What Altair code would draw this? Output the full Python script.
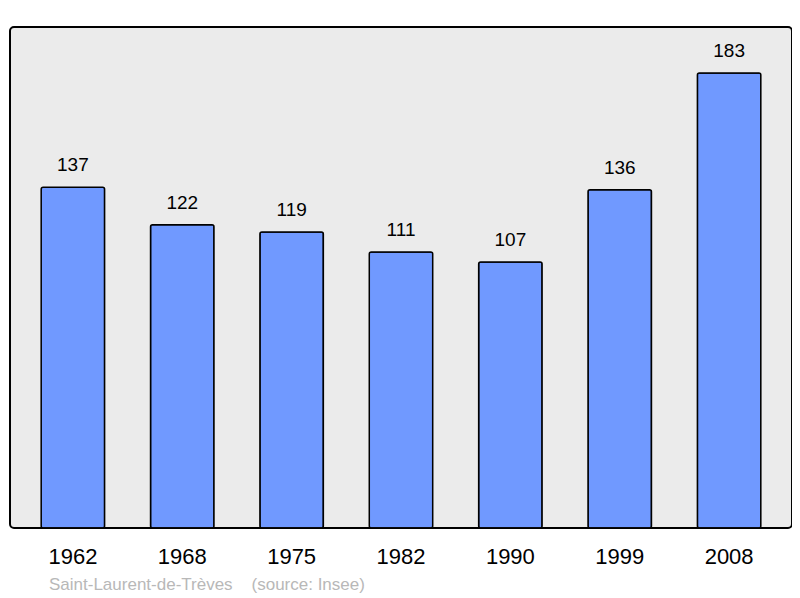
import altair as alt
import pandas as pd

years = ["1962", "1968", "1975", "1982", "1990", "1999", "2008"]
population = [137, 122, 119, 111, 107, 136, 183]
source_text = "Saint-Laurent-de-Trèves" + "\u00a0" * 4 + "(source: Insee)"

df = pd.DataFrame({"year": years, "pop": population})

x = alt.X("year:N", sort=years, title=None,
          scale=alt.Scale(paddingInner=0.42, paddingOuter=0.285),
          axis=alt.Axis(labelAngle=0, domain=False, ticks=False, labelPadding=18,
                        labelFontSize=22, labelColor="#000000", labelFont="Liberation Sans",
                        grid=False))
y = alt.Y("pop:Q", title=None, scale=alt.Scale(domain=[0, 201.5], nice=False, zero=True),
          axis=None)

bars = alt.Chart(df).mark_bar(color="#7099ff", stroke="#000000", strokeWidth=1.5,
                              cornerRadius=2).encode(x=x, y=y)
labels = alt.Chart(df).mark_text(dy=-22, fontSize=19, font="Liberation Sans",
                                 color="#000000").encode(x=x, y=y, text="pop:Q")

chart = (bars + labels).properties(
    width=782, height=501,
    padding={"left": 2, "top": 19, "right": 0, "bottom": 65},
    autosize=alt.AutoSizeParams(type="none"),
    background="#ffffff",
    title=alt.TitleParams(source_text, orient="bottom", anchor="start", dx=39, offset=10,
                          fontSize=17, fontWeight="normal", color="#b8b8b8",
                          font="Liberation Sans"),
).configure_view(
    fill="#ebebeb", stroke="#000000", strokeWidth=2, cornerRadius=4
)

chart.save("out.html", embed_options={"renderer": "svg", "actions": False})
